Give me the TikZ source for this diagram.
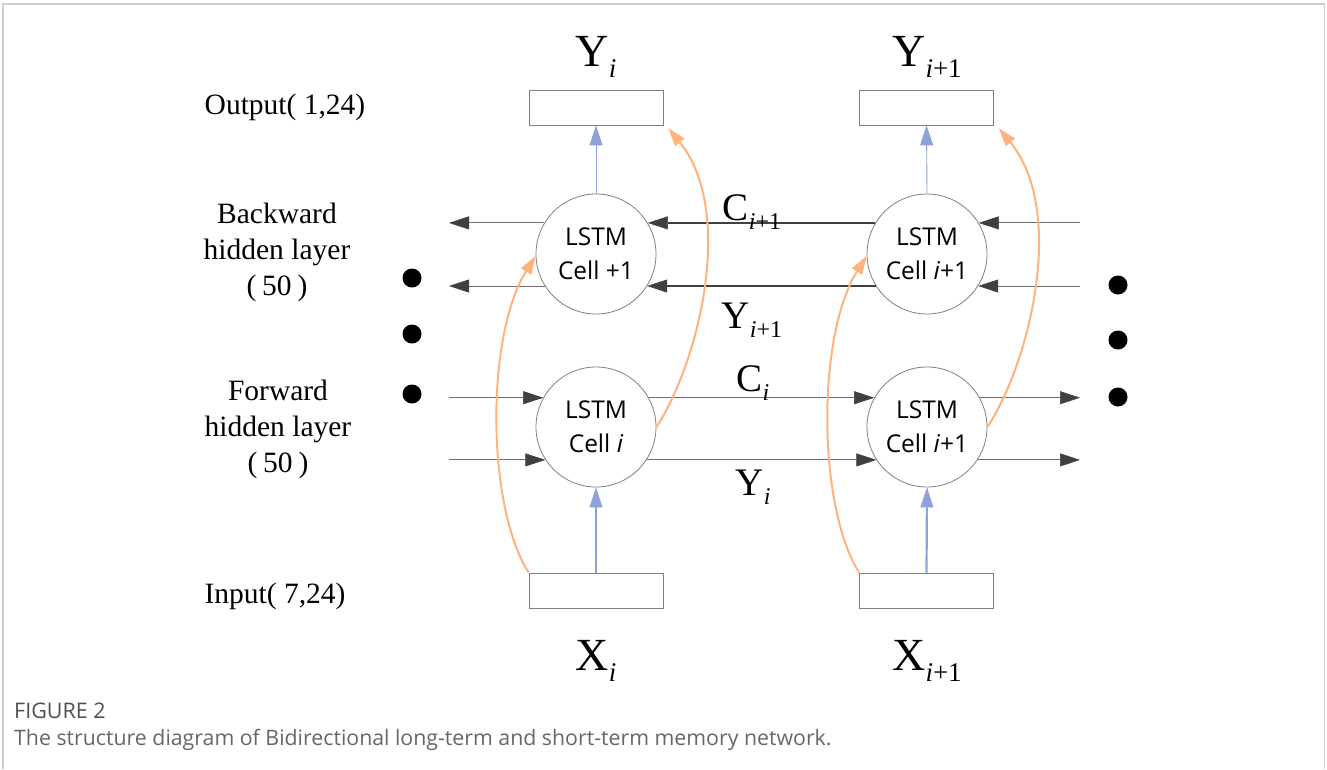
\documentclass[tikz,border=0pt]{standalone}
\usepackage{fontspec}
\setmainfont{Liberation Serif}
\setsansfont{Open Sans}
\newfontfamily\capfont{Open Sans}
\usetikzlibrary{arrows.meta}
\definecolor{bordgray}{HTML}{D0D0D0}
\definecolor{cellgray}{HTML}{808080}
\definecolor{arrgray}{HTML}{404040}
\definecolor{linegray}{HTML}{6E6E6E}
\definecolor{blueA}{HTML}{8EA2D9}
\definecolor{orangeA}{HTML}{FFB27C}
\definecolor{capgray}{HTML}{666666}
\definecolor{capdark}{HTML}{505050}
\newcommand{\subl}[1]{\raisebox{-0.25em}{\fontsize{27}{27}\selectfont #1}}
\newcommand{\subm}[1]{\raisebox{-0.25em}{\fontsize{24}{24}\selectfont #1}}
\newcommand{\pfifty}{(\hspace{0.2em}50\hspace{0.2em})}
\tikzset{
  cellnode/.style={circle, draw=cellgray, line width=0.8pt, minimum size=120pt, inner sep=0pt,
    align=center, font=\sffamily\fontsize{24.5}{34}\selectfont},
  boxnode/.style={rectangle, draw=cellgray, line width=0.8pt, minimum width=134pt, minimum height=35pt, inner sep=0pt},
  lbl/.style={font=\fontsize{29.5}{36}\selectfont, align=center, inner sep=0pt},
  biglbl/.style={font=\fontsize{46}{46}\selectfont, anchor=base, inner sep=0pt},
  midlbl/.style={font=\fontsize{39}{39}\selectfont, anchor=base, inner sep=0pt},
  thinarr/.style={draw=linegray, line width=1pt, -{Triangle[length=20pt,width=13pt,color=arrgray,fill=arrgray,line width=0.5pt]}},
  thickarr/.style={draw=arrgray, line width=2.2pt, -{Triangle[length=20pt,width=13pt,color=arrgray,fill=arrgray,line width=0.5pt]}},
  bluethick/.style={draw=blueA, line width=2.2pt, -{Triangle[length=20pt,width=13pt,line width=0.5pt]}},
  bluethin/.style={draw=blueA, line width=0.9pt, -{Triangle[length=20pt,width=13pt]}},
  orangearr/.style={draw=orangeA, line width=2pt, -{Triangle[length=18pt,width=12pt,line width=0.5pt]}},
  dotnode/.style={circle, fill=black, minimum size=19pt, inner sep=0pt}
}
\begin{document}
\begin{tikzpicture}[x=1pt,y=-1pt]
\useasboundingbox (0,0) rectangle (1327,769);
\draw[bordgray, line width=1.5pt] (3,769) -- (3,4) -- (1324.5,4) -- (1324.5,769);

% cells
\node[cellnode] (b1) at (596,254) {LSTM\\Cell +1};
\node[cellnode] (b2) at (927,254) {LSTM\\Cell \textit{i}+1};
\node[cellnode] (f1) at (596,427) {LSTM\\Cell \textit{i}};
\node[cellnode] (f2) at (927,427) {LSTM\\Cell \textit{i}+1};

% boxes
\node[boxnode] (o1) at (596,107.5) {};
\node[boxnode] (o2) at (926.5,107.5) {};
\node[boxnode] (i1) at (596,590.5) {};
\node[boxnode] (i2) at (926.5,590.5) {};

% free ends
\coordinate (L) at (449,0);
\coordinate (R) at (1080,0);

% backward layer
\draw[thinarr] (b1.149) -- (b1.149 -| L);
\draw[thinarr] (b1.212) -- (b1.212 -| L);
\draw[thinarr] (b2.31 -| R) -- (b2.31);
\draw[thinarr] (b2.-32 -| R) -- (b2.-32);
\draw[thickarr] (b2.149) -- (b1.31);
\draw[thickarr] (b2.212) -- (b1.-32);

% forward layer
\draw[thinarr] (f1.151 -| L) -- (f1.151);
\draw[thinarr] (f1.213 -| L) -- (f1.213);
\draw[thinarr] (f1.29) -- (f2.151);
\draw[thinarr] (f1.-33) -- (f2.213);
\draw[thinarr] (f2.29) -- (f2.29 -| R);
\draw[thinarr] (f2.-33) -- (f2.-33 -| R);

% blue
\draw[bluethick] (i1.north) -- (f1.south);
\draw[bluethick] (i2.north) -- (f2.south);
\draw[bluethin] (b1.north) -- (o1.south);
\draw[bluethin] (b2.north) -- (o2.south);

% orange
\draw[orangearr] (i1.north west) .. controls (486,505) and (486,335) .. (b1.182);
\draw[orangearr] (i2.north west) .. controls (817,505) and (817,335) .. (b2.182);
\draw[orangearr] (f1.east) .. controls (700,360) and (735,210) .. ([shift={(5,3)}]o1.south east);
\draw[orangearr] (f2.east) .. controls (1031,360) and (1066,210) .. ([shift={(5,3)}]o2.south east);

% dots
\node[dotnode] (dl1) at (412,278) {};
\node[dotnode] (dl2) at (412,334) {};
\node[dotnode] (dl3) at (412,394) {};
\node[dotnode] (dr1) at (1118,285) {};
\node[dotnode] (dr2) at (1118,340) {};
\node[dotnode] (dr3) at (1118,397) {};

% left labels
\node[lbl] (tout) at (285,107) {Output( 1,24)};
\node[lbl] (tback) at (277,252) {Backward\\hidden layer\\\pfifty};
\node[lbl] (tfwd) at (278,429) {Forward\\hidden layer\\\pfifty};
\node[lbl] (tin) at (275,596) {Input( 7,24)};

% top / bottom labels
\node[biglbl] (ly1) at (596,66) {Y\subl{\textit{i}}};
\node[biglbl] (ly2) at (927,66) {Y\subl{\textit{i}+1}};
\node[biglbl] (lx1) at (596,670) {X\subl{\textit{i}}};
\node[biglbl] (lx2) at (927,670) {X\subl{\textit{i}+1}};

% middle labels
\node[midlbl] (lc2) at (752,220) {C\subm{\textit{i}+1}};
\node[midlbl] (lyb) at (752,328) {Y\subm{\textit{i}+1}};
\node[midlbl] (lc1) at (753,391) {C\subm{\textit{i}}};
\node[midlbl] (lyf) at (753,495) {Y\subm{\textit{i}}};

% caption
\node[anchor=base west, inner sep=0pt, text=capdark, font=\capfont\fontsize{21.5}{22}\selectfont] (cap1) at (14,718) {FIGURE 2};
\node[anchor=base west, inner sep=0pt, text=capgray, font=\capfont\fontsize{21.3}{22}\selectfont] (cap2) at (14,745) {The structure diagram of Bidirectional long-term and short-term memory network.};
\end{tikzpicture}
\end{document}
